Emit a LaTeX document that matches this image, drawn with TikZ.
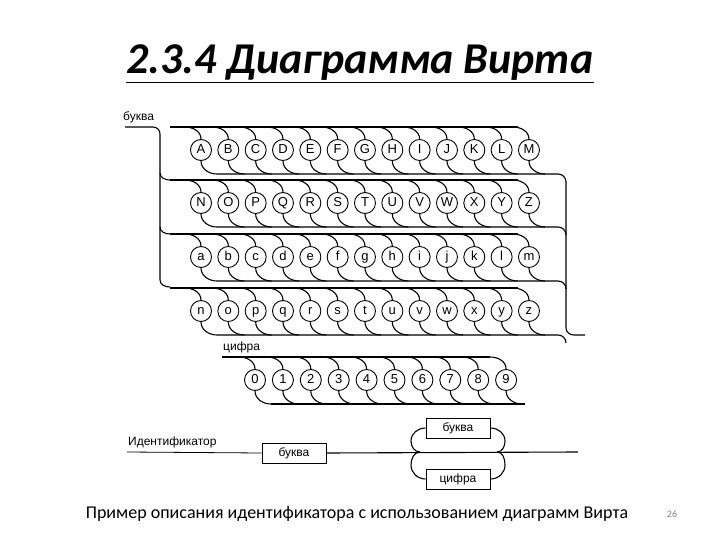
\documentclass[tikz,border=0pt]{standalone}
\usepackage{fontspec}
\setmainfont{Liberation Sans}
\newfontfamily\calib{Carlito}
\begin{document}
\begin{tikzpicture}[x=1pt,y=-1pt,
  rail/.style={line width=1.1pt},
  sym/.style={circle,draw,line width=0.9pt,minimum size=21pt,inner sep=0pt,font=\fontsize{13}{13}\selectfont,execute at begin node={\vphantom{Ag}}},
  rbox/.style={draw,line width=1pt,minimum width=64pt,minimum height=20pt,inner sep=0pt,font=\fontsize{12}{12}\selectfont},
  lbl/.style={anchor=south west,inner sep=1pt,font=\fontsize{12}{12}\selectfont}]
\useasboundingbox (0,0) rectangle (720,540);
\node[font=\calib\bfseries\itshape\fontsize{44}{44}\selectfont] (title) at (360,64) {\underline{2.3.4 Диаграмма Вирта}};
\node[font=\calib\fontsize{18}{18}\selectfont] (cap) at (357,514) {Пример описания идентификатора с использованием диаграмм Вирта};
\node[font=\calib\fontsize{10}{10}\selectfont,text=gray] (pg) at (672,514) {26};
% letters
\node[lbl] (lb) at (122,124) {буква};
\foreach \row/\cy [count=\r] in {{A,B,C,D,E,F,G,H,I,J,K,L,M}/150,{N,O,P,Q,R,S,T,U,V,W,X,Y,Z}/203,{a,b,c,d,e,f,g,h,i,j,k,l,m}/257,{n,o,p,q,r,s,t,u,v,w,x,y,z}/311}{
  \pgfmathsetmacro{\rt}{\cy-23}
  \pgfmathsetmacro{\rb}{\cy+24}
  \foreach \ch [count=\i] in \row {
    \pgfmathsetmacro{\cx}{201+(\i-1)*27.33}
    \node[sym] (s\r-\i) at (\cx,\cy) {\ch};
    \draw[rail] (\cx-16,\rt) to[out=0,in=90] (s\r-\i.north);
    \draw[rail] (s\r-\i.south) to[out=-90,in=180] (\cx+16,\rb);
  }
  \draw[rail] (170,\rt) -- (518,\rt);
  \draw[rail] (217,\rb) -- (558,\rb) to[out=0,in=90] (566,\rb+8);
}
\draw[rail] (125,127) -- (153,127) to[out=0,in=90] (160,134) -- (160,280) to[out=-90,in=180] (170,287);
\draw[rail] (160,173) to[out=-90,in=180] (170,180);
\draw[rail] (160,227) to[out=-90,in=180] (170,234);
\draw[rail] (566,182) -- (566,328) to[out=-90,in=180] (574,335) -- (585,335);
% digits
\node[lbl] (ld) at (222,354) {цифра};
\foreach \ch [count=\i] in {0,...,9}{
  \pgfmathsetmacro{\cx}{255+\i*27.9-27.9}
  \node[sym] (d\i) at (\cx,380) {\ch};
  \draw[rail] (\cx-16,357) to[out=0,in=90] (d\i.north);
  \draw[rail] (d\i.south) to[out=-90,in=180] (\cx+16,404);
}
\draw[rail] (222,357) -- (490,357);
\draw[rail] (271,404) -- (525,404);
% identifier
\node[lbl] (li) at (127,449) {Идентификатор};
\node[rbox] (b1) at (294,453) {буква};
\node[rbox] (b2) at (458,428) {буква};
\node[rbox] (b3) at (458,479) {цифра};
\coordinate (st) at (127,452);
\coordinate (en) at (578,452);
\coordinate (jl) at (420,452);
\coordinate (jr) at (497,452);
\draw[line width=0.8pt] (st) -- (b1.west);
\draw[rail] (b1.east) -- (en);
\draw[rail] (jl) to[out=180,in=-90] (411,441) to[out=90,in=180] (b2.west);
\draw[rail] (b2.east) to[out=0,in=90] (505,441) to[out=-90,in=0] (jr);
\draw[rail] (jl) to[out=180,in=90] (411,465) to[out=-90,in=180] (b3.west);
\draw[rail] (b3.east) to[out=0,in=-90] (505,465) to[out=90,in=0] (jr);
\end{tikzpicture}
\end{document}
